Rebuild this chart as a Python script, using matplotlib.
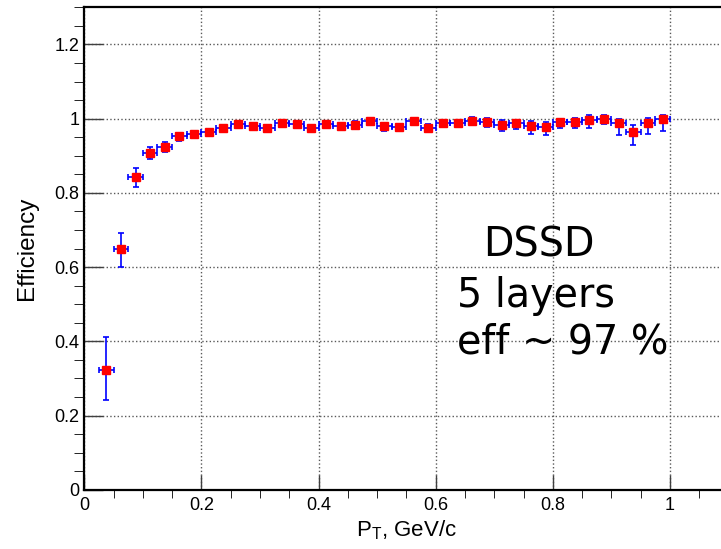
import matplotlib.pyplot as plt
from matplotlib.ticker import MultipleLocator

plt.rcParams['font.family'] = ['Liberation Sans', 'DejaVu Sans']

# bin centres (GeV/c), bin half-width and efficiency with asymmetric errors
pt = [0.0375, 0.0625, 0.0875, 0.1125, 0.1375, 0.1625, 0.1875, 0.2125, 0.2375,
      0.2625, 0.2875, 0.3125, 0.3375, 0.3625, 0.3875, 0.4125, 0.4375, 0.4625,
      0.4875, 0.5125, 0.5375, 0.5625, 0.5875, 0.6125, 0.6375, 0.6625, 0.6875,
      0.7125, 0.7375, 0.7625, 0.7875, 0.8125, 0.8375, 0.8625, 0.8875, 0.9125,
      0.9375, 0.9625, 0.9875]
half_bin = 0.0125
eff = [0.323, 0.648, 0.844, 0.908, 0.924, 0.952, 0.958, 0.965, 0.974,
       0.985, 0.981, 0.974, 0.988, 0.985, 0.974, 0.986, 0.981, 0.984,
       0.995, 0.979, 0.977, 0.995, 0.976, 0.988, 0.987, 0.995, 0.991,
       0.983, 0.987, 0.981, 0.977, 0.991, 0.990, 0.997, 0.998, 0.987,
       0.963, 0.988, 0.998]
err_lo = [0.081, 0.047, 0.029, 0.018, 0.013, 0.011, 0.008, 0.008, 0.007,
          0.007, 0.007, 0.008, 0.007, 0.006, 0.011, 0.006, 0.009, 0.011,
          0.007, 0.011, 0.011, 0.009, 0.010, 0.009, 0.009, 0.009, 0.014,
          0.015, 0.015, 0.022, 0.021, 0.017, 0.015, 0.023, 0.012, 0.031,
          0.033, 0.029, 0.032]
err_hi = [0.090, 0.043, 0.024, 0.016, 0.014, 0.009, 0.008, 0.008, 0.007,
          0.007, 0.007, 0.008, 0.007, 0.006, 0.007, 0.006, 0.008, 0.009,
          0.006, 0.009, 0.009, 0.008, 0.010, 0.009, 0.009, 0.009, 0.011,
          0.013, 0.010, 0.014, 0.014, 0.009, 0.012, 0.012, 0.011, 0.011,
          0.021, 0.014, 0.013]

fig = plt.figure(figsize=(7.21, 5.49), dpi=100)
ax = fig.add_axes([0.1169, 0.1078, 0.8936, 0.8789])

ax.errorbar(pt, eff, xerr=half_bin, yerr=[err_lo, err_hi], fmt='none',
            ecolor='blue', elinewidth=1.2, capsize=2.4, capthick=1.2, zorder=3)
ax.plot(pt, eff, 's', color='red', markersize=5.5, zorder=4)

ax.set_xlim(0, 1.1)
ax.set_ylim(0, 1.3)
ax.xaxis.set_major_locator(MultipleLocator(0.2))
ax.xaxis.set_minor_locator(MultipleLocator(0.05))
ax.yaxis.set_major_locator(MultipleLocator(0.2))
ax.yaxis.set_minor_locator(MultipleLocator(0.05))
ax.xaxis.set_major_formatter(plt.FuncFormatter(lambda v, p: '%g' % round(v, 2)))
ax.yaxis.set_major_formatter(plt.FuncFormatter(lambda v, p: '%g' % round(v, 2)))

ax.tick_params(direction='in', labelsize=13, width=1, color='0.25')
ax.tick_params(axis='x', which='major', length=11, pad=5)
ax.tick_params(axis='x', which='minor', length=5.5)
ax.tick_params(axis='y', which='major', length=13.5, pad=3.5)
ax.tick_params(axis='y', which='minor', length=7)
for s in ax.spines.values():
    s.set_linewidth(1.6)

ax.set_axisbelow(True)
ax.grid(True, which='major', linestyle=':', color='0.35', linewidth=1)

ax.set_xlabel(r'P$_\mathregular{T}$, GeV/c', fontsize=16, labelpad=3)
ax.set_ylabel('Efficiency', fontsize=17.5, labelpad=12)

ax.text(0.6807, 0.6286, 'DSSD', fontsize=28.5, family='DejaVu Sans')
ax.text(0.6358, 0.4938, '5 layers', fontsize=28.5, family='DejaVu Sans')
ax.text(0.6358, 0.3662, 'eff ~ 97 %', fontsize=28.5, family='DejaVu Sans')

fig.savefig('out.png', dpi=100)
